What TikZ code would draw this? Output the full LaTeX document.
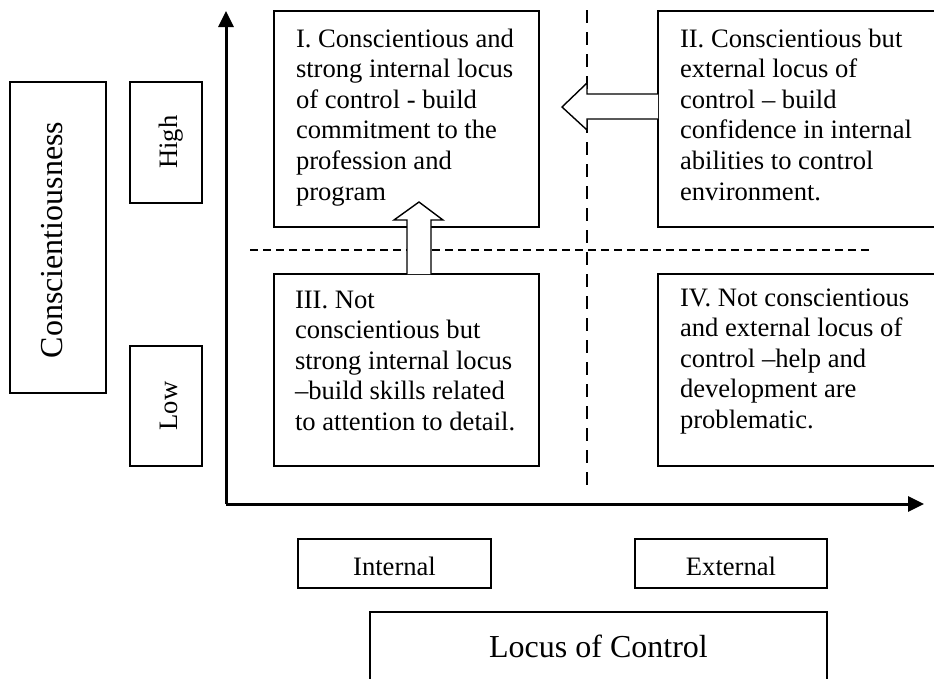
\documentclass[tikz,border=0pt]{standalone}
\usepackage{fontspec}
\setmainfont{Liberation Serif}
\usetikzlibrary{arrows.meta}
\tikzset{
  box/.style={draw, line width=1.4pt, fill=white, inner sep=0pt, outer sep=0pt},
  txt/.style={inner sep=0pt, outer sep=0pt, align=left, anchor=north west,
              font=\fontsize{26.6}{30.6}\selectfont},
  lab/.style={inner sep=0pt, outer sep=0pt, font=\fontsize{26.6}{30.6}\selectfont},
  biglab/.style={inner sep=0pt, outer sep=0pt, font=\fontsize{32}{36}\selectfont},
  axisline/.style={line width=3pt, -{Triangle[length=16pt,width=15pt]}},
  hdash/.style={line width=1.3pt, dash pattern=on 8pt off 5pt},
  vdash/.style={line width=1.3pt, dash pattern=on 13pt off 9pt},
  blockarrow/.style={draw, line width=1.4pt, fill=white, line join=miter}
}
\begin{document}
\begin{tikzpicture}[x=1pt,y=-1pt]
\useasboundingbox (0,0) rectangle (934,678);
\clip (0,0) rectangle (934,678);
% dashed quadrant separators
\coordinate (hd1) at (250,250);
\coordinate (hd2) at (873,250);
\coordinate (vd1) at (587,10);
\coordinate (vd2) at (587,491);
\draw[hdash] (hd1) -- (hd2);
\draw[vdash] (vd1) -- (vd2);
% axes
\coordinate (o) at (226,504);
\coordinate (ytop) at (226,11);
\coordinate (xend) at (924,504);
\draw[axisline] (o) -- (ytop);
\draw[axisline] (o) -- (xend);
% left labels
\node[box, minimum width=96pt, minimum height=311pt] (cbox) at (58,237.5) {};
\node[biglab, rotate=90, anchor=base] (ctext) at (62,240) {Conscientiousness};
\node[box, minimum width=72pt, minimum height=121pt] (high) at (166,142.5) {};
\node[lab, rotate=90, anchor=base] (hight) at (177,142) {High};
\node[box, minimum width=72pt, minimum height=120pt] (low) at (166,406) {};
\node[lab, rotate=90, anchor=base] (lowt) at (177,406) {Low};
% quadrant boxes
\node[box, minimum width=265pt, minimum height=216pt] (b1) at (406.5,119) {};
\node[box, minimum width=287pt, minimum height=216pt] (b2) at (801.5,119) {};
\node[box, minimum width=265pt, minimum height=192pt] (b3) at (406.5,370) {};
\node[box, minimum width=287pt, minimum height=192pt] (b4) at (801.5,370) {};
\node[txt] (t1) at ([shift={(22,14.6)}]b1.north west) {\strut I. Conscientious and\\strong internal locus\\of control - build\\commitment to the\\profession and\\program};
\node[txt] (t2) at ([shift={(22,14.6)}]b2.north west) {\strut II. Conscientious but\\external locus of\\control – build\\confidence in internal\\abilities to control\\environment.};
\node[txt] (t3) at ([shift={(21,12.6)}]b3.north west) {\strut III. Not\\conscientious but\\strong internal locus\\–build skills related\\to attention to detail.};
\node[txt] (t4) at ([shift={(22,10.6)}]b4.north west) {\strut IV. Not conscientious\\and external locus of\\control –help and\\development are\\problematic.};
% block arrows
\draw[blockarrow] (407,274) -- (407,220) -- (394,220) -- (419,202) -- (443,220) -- (431,220) -- (431,274);
\draw[blockarrow] (b2.west |- 0,94) -- (587,94) -- (587,83) -- (562,107) -- (587,130) -- (587,119) -- (b2.west |- 0,119);
% bottom labels
\node[box, minimum width=193pt, minimum height=49pt] (ib) at (394.5,563.5) {};
\node[lab, anchor=base] (it) at (394.5,575) {Internal};
\node[box, minimum width=192pt, minimum height=49pt] (eb) at (731,563.5) {};
\node[lab, anchor=base] (et) at (731,575) {External};
\node[box, minimum width=457pt, minimum height=78pt] (lb) at (598.5,651) {};
\node[biglab, anchor=base] (lt) at (598.5,657) {Locus of Control};
\end{tikzpicture}
\end{document}
